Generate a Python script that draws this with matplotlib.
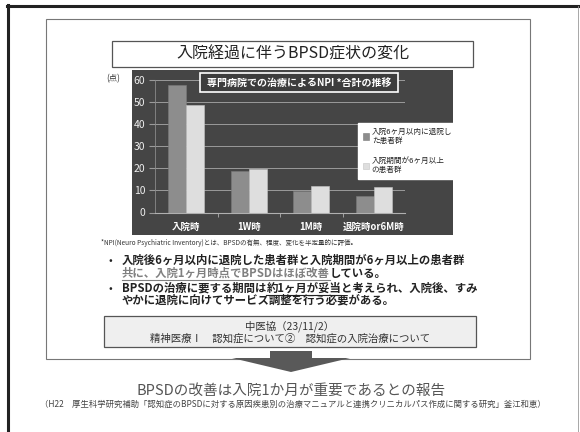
import numpy as np
import matplotlib.pyplot as plt
from matplotlib.patches import Rectangle, Polygon

plt.rcParams['font.family'] = ['Noto Sans CJK JP', 'DejaVu Sans']

# data
categories = ['入院時', '1W時', '1M時', '退院時or6M時']
early_discharge = [57.3, 18.9, 9.6, 7.5]   # discharged within 6 months
long_stay = [48.3, 19.7, 11.8, 11.6]        # stayed 6 months or more
y_ticks = [0, 10, 20, 30, 40, 50, 60]
legend_labels = ['入院6ヶ月以内に退院し\nた患者群', '入院期間が6ヶ月以上\nの患者群']

W, H = 580, 432
fig = plt.figure(figsize=(5.8, 4.32), dpi=100)
renderer = fig.canvas.get_renderer()


def pixel_axes(left, top, right, bottom, z):
    ax = fig.add_axes([left / W, 1 - bottom / H, (right - left) / W, (bottom - top) / H])
    ax.set_zorder(z)
    ax.patch.set_alpha(0)
    return ax


# full-figure layers in pixel coordinates
bg = pixel_axes(0, 0, W, H, 1)
fg = pixel_axes(0, 0, W, H, 3)
for a in (bg, fg):
    a.set_xlim(0, W)
    a.set_ylim(H, 0)
    a.axis('off')


def inline(x, y, pieces, size, weight='bold'):
    for text, color, underline in pieces:
        t = bg.text(x, y, text, fontsize=size, color=color, weight=weight,
                    ha='left', va='baseline')
        w = t.get_window_extent(renderer).width
        if underline:
            bg.plot([x, x + w], [y + 2.5, y + 2.5], color=color, lw=0.8)
        x += w


# outer frame and slide page
bg.plot([7, W], [6, 6], color='#222222', lw=2.2)
bg.plot([8, 8], [5, H], color='#222222', lw=2.2)
bg.plot([578, 578], [6, H], color='#999999', lw=0.6)
bg.add_patch(Rectangle((46, 19), 484, 340, fill=False, ec='#777777', lw=0.8))

# slide title
bg.add_patch(Rectangle((112, 41), 361, 26, fc='white', ec='#555555', lw=0.9))
bg.text(292.5, 54.5, '入院経過に伴うBPSD症状の変化', fontsize=11.5, color='#222222',
        ha='center', va='center')

# chart background
bg.add_patch(Rectangle((132, 70), 321, 165, fc='#454545', ec='none'))
bg.text(113, 79, '(点)', fontsize=6, color='#333333', ha='center', va='center')

# bar chart
ax = pixel_axes(155, 79.5, 405, 212.5, 2)
x = np.arange(len(categories))
w = 0.29
ax.bar(x - w / 2, early_discharge, w, color='#8d8d8d', edgecolor='#7a7a7a', lw=0.4,
       label=legend_labels[0])
ax.bar(x + w / 2, long_stay, w, color='#dedede', edgecolor='#c4c4c4', lw=0.4,
       label=legend_labels[1])
ax.set_xlim(-0.5, 3.5)
ax.set_ylim(0, 60)
ax.set_yticks(y_ticks)
ax.yaxis.grid(True, color='#9a9a9a', lw=0.7)
ax.set_axisbelow(True)
for s in ('top', 'right'):
    ax.spines[s].set_visible(False)
ax.spines['left'].set_color('#8a8a8a')
ax.spines['left'].set_linewidth(0.6)
ax.spines['bottom'].set_color('#b0b0b0')
ax.spines['bottom'].set_linewidth(0.8)
ax.tick_params(axis='y', length=4, color='#9a9a9a', labelcolor='#eeeeee',
               labelsize=7.5, pad=3)
ax.set_xticks(x, categories)
ax.set_xticks([0.5, 1.5, 2.5], minor=True)
ax.tick_params(axis='x', which='major', length=0, labelcolor='white', labelsize=6.8, pad=7)
ax.tick_params(axis='x', which='minor', length=3, color='#b0b0b0')
for label in ax.get_xticklabels():
    label.set_fontweight('bold')

leg = ax.legend(loc='upper left', bbox_to_anchor=(358 / W, 1 - 123 / H),
                bbox_transform=fig.transFigure, fontsize=5.5, fancybox=False,
                edgecolor='white', facecolor='white', framealpha=1,
                handlelength=0.9, handleheight=0.9, handletextpad=0.3,
                labelspacing=1.6, borderpad=0.6, borderaxespad=0)
for t in leg.get_texts():
    t.set_color('#222222')

# chart title box
fg.add_patch(Rectangle((200, 73), 198, 19, fc='#3d3d3d', ec='white', lw=1.2))
fg.text(299, 82.5, '専門病院での治療によるNPI *合計の推移', fontsize=7.2, color='white',
        weight='bold', ha='center', va='center')

# notes
bg.text(101, 243, '*NPI(Neuro Psychiatric Inventory)とは、BPSDの有無、程度、変化を半定量的に評価。',
        fontsize=4.7, color='#333333', ha='left', va='center')
for yb in (264, 292):
    bg.text(110, yb, '•', fontsize=8, color='#222222', ha='center', va='baseline')
inline(122, 264, [('入院後6ヶ月以内に退院した患者群と入院期間が6ヶ月以上の患者群', '#222222', False)], 8.2)
inline(122, 277, [('共に、入院1ヶ月時点でBPSDはほぼ改善', '#808080', True),
                  ('している。', '#222222', False)], 8.2)
inline(122, 292, [('BPSDの治療に要する期間は', '#222222', False),
                  ('約1ヶ月が妥当', '#222222', True),
                  ('と考えられ、入院後、すみ', '#222222', False)], 8.2)
inline(122, 304, [('やかに退院に向けてサービス調整を行う必要がある。', '#222222', False)], 8.2)

# source box
bg.add_patch(Rectangle((104, 316), 372, 31, fc='#efefef', ec='#555555', lw=0.9))
bg.text(290, 326, '中医協（23/11/2）', fontsize=7.5, color='#333333', ha='center', va='center')
bg.text(290, 339, '精神医療Ⅰ　認知症について②　認知症の入院治療について', fontsize=7.5,
        color='#333333', ha='center', va='center')

# arrow
fg.add_patch(Polygon([(270, 351), (312, 351), (312, 358), (350, 358), (291, 372),
                      (232, 358), (270, 358)], closed=True, fc='#595959', ec='none'))

# conclusion
bg.text(291, 391, 'BPSDの改善は入院1か月が重要であるとの報告', fontsize=10.5, color='#555555',
        ha='center', va='center')
bg.text(293, 404, '（H22　厚生科学研究補助「認知症のBPSDに対する原因疾患別の治療マニュアルと'
        '連携クリニカルパス作成に関する研究」釜江和恵）', fontsize=6.0, color='#444444',
        ha='center', va='center')

fig.savefig('out.png', dpi=100)
